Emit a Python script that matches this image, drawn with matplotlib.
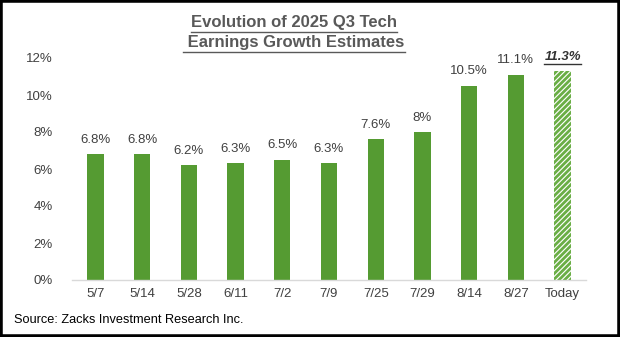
import matplotlib
matplotlib.use("Agg")
import matplotlib.pyplot as plt
from matplotlib.patches import Rectangle
from matplotlib.lines import Line2D

plt.rcParams['font.family'] = ['Liberation Sans', 'DejaVu Sans']
plt.rcParams['hatch.linewidth'] = 2.0

dates = ["5/7", "5/14", "5/28", "6/11", "7/2", "7/9", "7/25", "7/29", "8/14", "8/27", "Today"]
growth = [6.8, 6.8, 6.2, 6.3, 6.5, 6.3, 7.6, 8.0, 10.5, 11.1, 11.3]
value_labels = ["6.8%", "6.8%", "6.2%", "6.3%", "6.5%", "6.3%", "7.6%", "8%", "10.5%", "11.1%", "11.3%"]
y_ticks = [0, 2, 4, 6, 8, 10, 12]

GREEN = "#559B32"
TEXT = "#404040"
TITLE = "#595959"


def underline(fig, txt, pad=1.5, lw=1.0):
    # matplotlib has no underline style, so draw a line under the text bbox
    fig.canvas.draw()
    bb = txt.get_window_extent()
    inv = fig.transFigure.inverted()
    (x0, y0), (x1, _) = inv.transform([(bb.x0, bb.y0 - pad), (bb.x1, bb.y0 - pad)])
    fig.add_artist(Line2D([x0, x1], [y0, y0], transform=fig.transFigure,
                          color=txt.get_color(), lw=lw))


fig = plt.figure(figsize=(6.2, 3.37), dpi=100)
ax = fig.add_axes([72 / 620, 1 - 280 / 337, (586 - 72) / 620, (280 - 58) / 337])

x = list(range(len(dates)))
bars = ax.bar(x[:-1], growth[:-1], width=0.35, color=GREEN)
today = ax.bar(x[-1], growth[-1], width=0.35, color="white", edgecolor="#6AAE45",
               hatch="//////", linewidth=0)

for i in x[:-1]:
    ax.text(i, growth[i] + 0.45, value_labels[i], ha="center", va="bottom",
            fontsize=9.5, color=TEXT)
last = ax.text(x[-1], growth[-1] + 0.45, value_labels[-1], ha="center", va="bottom",
               fontsize=9.5, color="#333333", fontweight="bold", fontstyle="italic")

ax.set_xlim(-0.5, len(dates) - 0.5)
ax.set_ylim(0, 12)
ax.set_yticks(y_ticks)
ax.set_yticklabels([f"{t}%" for t in y_ticks])
ax.set_xticks(x)
ax.set_xticklabels(dates)
ax.tick_params(axis="both", length=0, labelsize=9.5, labelcolor=TEXT)
ax.tick_params(axis="y", pad=14)
ax.tick_params(axis="x", pad=6)
for side in ["top", "right", "left"]:
    ax.spines[side].set_visible(False)
ax.spines["bottom"].set_color("#D9D9D9")
ax.spines["bottom"].set_linewidth(1.0)

t1 = fig.text(294 / 620, 1 - 23 / 337, "Evolution of 2025 Q3 Tech", ha="center", va="center",
              fontsize=12, fontweight="bold", color=TITLE)
t2 = fig.text(294 / 620, 1 - 43 / 337, " Earnings Growth Estimates", ha="center", va="center",
              fontsize=12, fontweight="bold", color=TITLE)
fig.text(14 / 620, 1 - 320 / 337, "Source: Zacks Investment Research Inc.", ha="left",
         va="center", fontsize=9.2, color="black")

underline(fig, t1)
underline(fig, t2)
underline(fig, last, pad=1.0)

fig.add_artist(Rectangle((0, 0), 1, 1, transform=fig.transFigure, fill=False,
                         edgecolor="black", linewidth=4))

fig.savefig("out.png", dpi=100)
